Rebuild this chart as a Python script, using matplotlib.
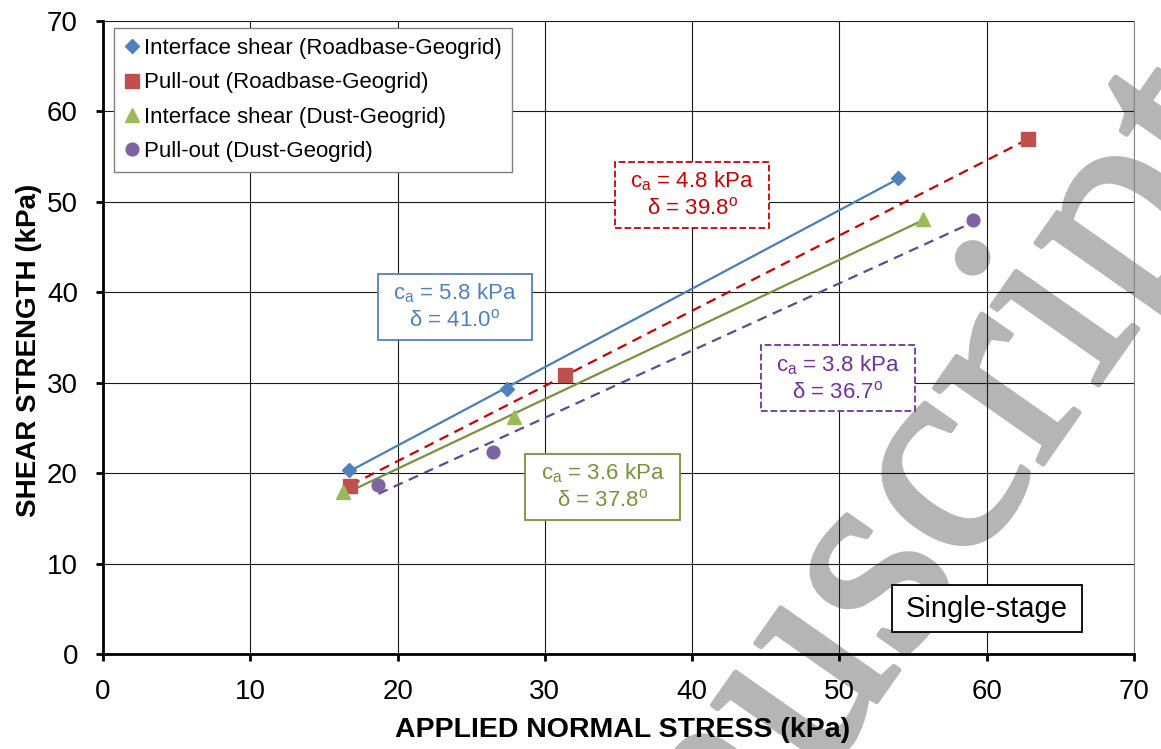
import numpy as np
import matplotlib
matplotlib.use("Agg")
import matplotlib.pyplot as plt
import matplotlib.patheffects as pe
from matplotlib.patches import Rectangle

plt.rcParams["font.family"] = ["Liberation Sans", "DejaVu Sans"]
plt.rcParams["mathtext.fontset"] = "custom"
plt.rcParams["mathtext.rm"] = "Liberation Sans"
plt.rcParams["mathtext.it"] = "Liberation Sans"

# series data (normal stress, shear strength), kPa
is_rb_x = [16.7, 27.4, 54.0]
is_rb_y = [20.3, 29.3, 52.6]
po_rb_x = [16.8, 31.4, 62.8]
po_rb_y = [18.6, 30.9, 56.9]
is_dust_x = [16.3, 27.9, 55.7]
is_dust_y = [17.9, 26.2, 48.1]
po_dust_x = [18.7, 26.5, 59.1]
po_dust_y = [18.7, 22.3, 48.0]

labels = [
    "Interface shear (Roadbase-Geogrid)",
    "Pull-out (Roadbase-Geogrid)",
    "Interface shear (Dust-Geogrid)",
    "Pull-out (Dust-Geogrid)",
]
ca_values = [5.8, 4.8, 3.6, 3.8]
delta_values = [41.0, 39.8, 37.8, 36.7]

series = [
    # x, y, marker, ms, marker colour, line colour, line style, text colour, box centre
    (is_rb_x, is_rb_y, "D", 7.6, "#4F81BD", "#4A7EBB", "-", "#4F81BD", (23.9, 38.4)),
    (po_rb_x, po_rb_y, "s", 10.5, "#C0504D", "#D00000", "--", "#CC0000", (40.0, 50.8)),
    (is_dust_x, is_dust_y, "^", 9.5, "#9BBB59", "#77933C", "-", "#77933C", (33.9, 18.5)),
    (po_dust_x, po_dust_y, "o", 9.2, "#8064A2", "#604A8B", "--", "#7030A0", (49.9, 30.5)),
]

fig = plt.figure(figsize=(11.61, 7.49), dpi=100)

# watermark sits behind the (transparent) chart
wm_color = "#B5B5B5"
fig.text(1270 / 1161, 1 - 140 / 749, "manuscript", rotation=55, ha="right",
         va="baseline", rotation_mode="anchor", fontsize=208,
         family="Liberation Serif", color=wm_color, zorder=-5,
         path_effects=[pe.withStroke(linewidth=3.5, foreground=wm_color)])

ax = fig.add_axes([103 / 1161, 1 - 654 / 749, 1031 / 1161, 633 / 749])
ax.patch.set_facecolor("none")

handles = []
for i, (x, y, mk, ms, mc, lc, ls, tc, centre) in enumerate(series):
    x = np.array(x)
    y = np.array(y)
    slope, icpt = np.polyfit(x, y, 1)
    xf = np.array([x.min(), x.max()])
    ax.plot(xf, slope * xf + icpt, color=lc, lw=1.6, ls=ls,
            dashes=(4.5, 3) if ls == "--" else (None, None), zorder=3)
    h, = ax.plot(x, y, ls="none", marker=mk, ms=ms, color=mc, mec=mc,
                 label=labels[i], zorder=4)
    handles.append(h)

    # fit-parameter box
    bw, bh = 10.5, 7.3
    ax.add_patch(Rectangle((centre[0] - bw / 2, centre[1] - bh / 2), bw, bh,
                           facecolor="white", edgecolor=tc, lw=1.3,
                           ls=ls, zorder=5))
    ax.text(centre[0], centre[1],
            "c$_a$ = %.1f kPa\n\u03b4 = %.1f$^{\\mathrm{o}}$" % (ca_values[i], delta_values[i]),
            ha="center", va="center", fontsize=16, color=tc, zorder=6,
            linespacing=1.25)

# Single-stage tag
ax.add_patch(Rectangle((60.0 - 6.45, 5.0 - 2.6), 12.9, 5.2, facecolor="white",
                       edgecolor="black", lw=1.3, zorder=5))
ax.text(60.0, 5.0, "Single-stage", ha="center", va="center", fontsize=21, zorder=6)

ax.set_xlim(0, 70)
ax.set_ylim(0, 70)
ax.set_xticks(np.arange(0, 71, 10))
ax.set_yticks(np.arange(0, 71, 10))
ax.grid(True, color="#1a1a1a", lw=0.8)
ax.set_axisbelow(True)

for side in ["left", "bottom"]:
    ax.spines[side].set_linewidth(2)
    ax.spines[side].set_color("black")
ax.spines["top"].set_visible(False)
ax.spines["right"].set_color("#888888")
ax.spines["right"].set_linewidth(0.8)

ax.tick_params(direction="out", length=5, width=2, labelsize=20, pad=13)

ax.set_xlabel("APPLIED NORMAL STRESS (kPa)", fontsize=20.5, fontweight="bold")
ax.set_ylabel("SHEAR STRENGTH (kPa)", fontsize=20, fontweight="bold")
ax.xaxis.set_label_coords(0.504, -0.1)
ax.yaxis.set_label_coords(-0.059, 0.479)

leg = ax.legend(handles=handles, loc="upper left", bbox_to_anchor=(0.0107, 0.989),
                borderaxespad=0, fontsize=16, frameon=True, fancybox=False,
                edgecolor="#808080", framealpha=1, handlelength=0.7,
                handletextpad=0.2, borderpad=0.45, labelspacing=0.6,
                numpoints=1)
leg.get_frame().set_linewidth(1)
leg.set_zorder(7)

fig.savefig("out.png", dpi=100)
